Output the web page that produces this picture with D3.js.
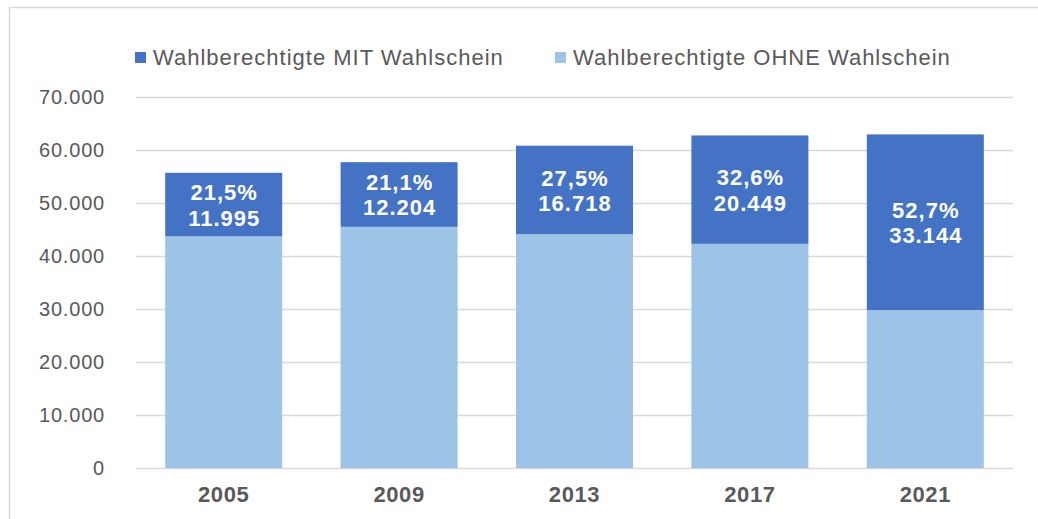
<!DOCTYPE html>
<html>
<head>
<meta charset="utf-8">
<script src="https://cdn.jsdelivr.net/npm/d3@7"></script>
<style>
  body { margin: 0; background: #fff; }
  svg { display: block; font-family: "Liberation Sans", Arial, sans-serif; }
</style>
</head>
<body>
<div id="chart"></div>
<script>
// data
var years = ["2005", "2009", "2013", "2017", "2021"];
var mitValues = [11995, 12204, 16718, 20449, 33144];
var ohneValues = [43700, 45500, 44100, 42300, 29800];
var mitPercent = ["21,5%", "21,1%", "27,5%", "32,6%", "52,7%"];
var yTicks = [0, 10000, 20000, 30000, 40000, 50000, 60000, 70000];
var seriesNames = ["Wahlberechtigte MIT Wahlschein", "Wahlberechtigte OHNE Wahlschein"];

var W = 1038, H = 519;
var margin = { top: 97, right: 25, bottom: 51, left: 136 };
var width = W - margin.left - margin.right,
    height = H - margin.top - margin.bottom;

var darkBlue = "#4472c4", lightBlue = "#9dc3e6", textGrey = "#595959";

var rows = years.map(function(y, i) {
  return { year: y, ohne: ohneValues[i], mit: mitValues[i], pct: mitPercent[i] };
});

var stack = d3.stack().keys(["ohne", "mit"])(rows);

var x = d3.scaleBand().domain(years).range([0, width]).paddingInner(0.333).paddingOuter(0.1665);
var y = d3.scaleLinear().domain([0, 70000]).range([height, 0]);

var svg = d3.select("#chart").append("svg")
  .attr("width", W).attr("height", H);

// chart frame
svg.append("rect")
  .attr("x", 9.5).attr("y", 7.5)
  .attr("width", W + 20).attr("height", H + 20)
  .attr("fill", "none").attr("stroke", "#d9d9d9").attr("stroke-width", 1.5);

var g = svg.append("g")
  .attr("transform", "translate(" + margin.left + "," + margin.top + ")");

// grid + y labels
var fmt = function(d) { return d3.format(",")(d).replace(/,/g, "."); };
var yAxis = g.append("g")
  .call(d3.axisLeft(y).tickValues(yTicks).tickSize(-width).tickPadding(31).tickFormat(fmt));
yAxis.select(".domain").remove();
yAxis.selectAll(".tick line").attr("stroke", "#d9d9d9").attr("stroke-width", 1.5);
yAxis.selectAll(".tick text")
  .attr("fill", textGrey).style("font-size", "20px").style("letter-spacing", "0.8px");

// bars
var colors = { ohne: lightBlue, mit: darkBlue };
g.selectAll(".layer").data(stack).enter().append("g")
  .attr("fill", function(d) { return colors[d.key]; })
  .selectAll("rect").data(function(d) { return d; }).enter().append("rect")
    .attr("x", function(d) { return x(d.data.year); })
    .attr("width", x.bandwidth())
    .attr("y", function(d) { return y(d[1]); })
    .attr("height", function(d) { return y(d[0]) - y(d[1]); });

// value labels inside the dark segments
var mitLayer = stack[1];
var cx = function(d) { return x(d.data.year) + x.bandwidth() / 2 + 0.5; };
var labels = g.selectAll(".lbl").data(mitLayer).enter().append("text")
  .attr("text-anchor", "middle")
  .attr("fill", "#fff")
  .style("font-size", "22px")
  .style("font-weight", "bold")
  .style("letter-spacing", "1px")
  .attr("x", cx)
  .attr("y", function(d) { return (y(d[0]) + y(d[1])) / 2; });
labels.append("tspan")
  .attr("x", cx)
  .attr("dy", "-0.2em")
  .text(function(d) { return d.data.pct; });
labels.append("tspan")
  .attr("x", cx)
  .attr("dy", "1.15em")
  .text(function(d) { return fmt(d.data.mit); });

// x axis
var xAxis = g.append("g")
  .attr("transform", "translate(0," + height + ")")
  .call(d3.axisBottom(x).tickSize(0).tickPadding(18));
xAxis.select(".domain").remove();
xAxis.selectAll(".tick text")
  .attr("fill", textGrey).style("font-size", "22px").style("font-weight", "bold")
  .style("letter-spacing", "0.6px");

// legend
var legendX = [135, 555];
var legend = svg.selectAll(".leg").data(seriesNames).enter().append("g")
  .attr("transform", function(d, i) { return "translate(" + legendX[i] + ",51)"; });
legend.append("rect")
  .attr("width", 11).attr("height", 11).attr("y", 1)
  .attr("fill", function(d, i) { return i === 0 ? darkBlue : lightBlue; });
legend.append("text")
  .attr("x", 18).attr("y", 14)
  .attr("fill", textGrey)
  .style("font-size", "22px")
  .style("letter-spacing", "1px")
  .text(function(d) { return d; });
</script>
</body>
</html>
